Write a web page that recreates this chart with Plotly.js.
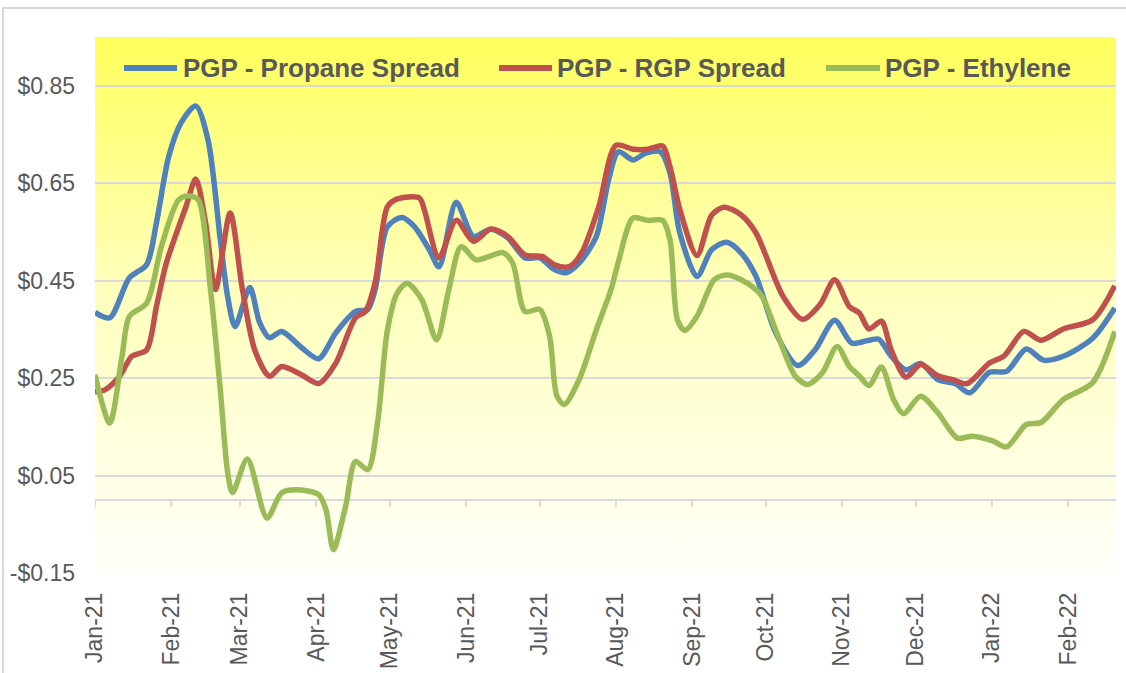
<!DOCTYPE html>
<html>
<head>
<meta charset="utf-8">
<script src="https://cdn.plot.ly/plotly-3.0.1.min.js"></script>
<style>
html,body{margin:0;padding:0;background:#ffffff;}
#chart{width:1126px;height:673px;}
</style>
</head>
<body>
<div id="chart"></div>
<script>
// ---------------- DATA ----------------
const seriesNames = ['PGP - Propane Spread', 'PGP - RGP Spread', 'PGP - Ethylene'];
const seriesColors = ['#4F81BD', '#C0504D', '#9BBB59'];

const propaneDates = ['2021-01-01','2021-01-07','2021-01-15','2021-01-22','2021-01-26','2021-01-31','2021-02-05','2021-02-11','2021-02-16','2021-02-21','2021-02-24','2021-02-27','2021-03-05','2021-03-09','2021-03-13','2021-03-18','2021-03-26','2021-04-02','2021-04-09','2021-04-17','2021-04-22','2021-04-25','2021-04-30','2021-05-06','2021-05-11','2021-05-17','2021-05-21','2021-05-28','2021-06-04','2021-06-11','2021-06-18','2021-06-25','2021-07-01','2021-07-07','2021-07-12','2021-07-17','2021-07-24','2021-07-29','2021-08-02','2021-08-08','2021-08-13','2021-08-19','2021-08-23','2021-08-27','2021-09-03','2021-09-09','2021-09-15','2021-09-21','2021-09-27','2021-10-05','2021-10-14','2021-10-21','2021-10-29','2021-11-05','2021-11-12','2021-11-16','2021-11-21','2021-11-27','2021-12-03','2021-12-10','2021-12-17','2021-12-23','2021-12-31','2022-01-07','2022-01-15','2022-01-22','2022-01-30','2022-02-11','2022-02-20'];
const propaneValues = [0.385,0.374,0.456,0.483,0.569,0.705,0.774,0.809,0.739,0.534,0.417,0.356,0.436,0.364,0.333,0.346,0.313,0.290,0.343,0.387,0.391,0.432,0.561,0.580,0.561,0.514,0.479,0.611,0.541,0.556,0.538,0.497,0.497,0.473,0.467,0.486,0.541,0.657,0.715,0.698,0.712,0.715,0.671,0.548,0.459,0.514,0.529,0.507,0.459,0.343,0.276,0.308,0.369,0.322,0.328,0.330,0.295,0.267,0.280,0.247,0.239,0.220,0.262,0.264,0.310,0.287,0.295,0.332,0.394];

const rgpDates = ['2021-01-01','2021-01-05','2021-01-11','2021-01-16','2021-01-22','2021-01-26','2021-01-30','2021-02-07','2021-02-11','2021-02-15','2021-02-19','2021-02-25','2021-03-02','2021-03-07','2021-03-13','2021-03-18','2021-03-26','2021-04-02','2021-04-09','2021-04-17','2021-04-21','2021-04-25','2021-04-30','2021-05-04','2021-05-13','2021-05-15','2021-05-21','2021-05-28','2021-06-04','2021-06-11','2021-06-18','2021-06-25','2021-07-02','2021-07-07','2021-07-13','2021-07-18','2021-07-25','2021-08-01','2021-08-08','2021-08-14','2021-08-20','2021-08-23','2021-08-27','2021-09-03','2021-09-09','2021-09-14','2021-09-21','2021-09-27','2021-10-08','2021-10-16','2021-10-23','2021-10-29','2021-11-04','2021-11-08','2021-11-12','2021-11-17','2021-11-21','2021-11-27','2021-12-03','2021-12-10','2021-12-16','2021-12-22','2021-12-31','2022-01-06','2022-01-14','2022-01-21','2022-01-30','2022-02-11','2022-02-20'];
const rgpValues = [0.222,0.226,0.254,0.295,0.308,0.397,0.486,0.602,0.659,0.569,0.432,0.589,0.432,0.308,0.254,0.274,0.257,0.239,0.281,0.374,0.387,0.446,0.602,0.618,0.620,0.596,0.497,0.574,0.531,0.556,0.541,0.503,0.500,0.483,0.479,0.507,0.602,0.728,0.720,0.720,0.727,0.684,0.596,0.502,0.585,0.601,0.585,0.548,0.418,0.371,0.401,0.452,0.397,0.384,0.351,0.367,0.308,0.252,0.278,0.255,0.247,0.239,0.281,0.296,0.346,0.328,0.351,0.370,0.440];

const ethyleneDates = ['2021-01-01','2021-01-07','2021-01-12','2021-01-15','2021-01-22','2021-01-28','2021-02-04','2021-02-08','2021-02-12','2021-02-17','2021-02-21','2021-02-24','2021-02-26','2021-03-04','2021-03-12','2021-03-18','2021-03-24','2021-04-02','2021-04-05','2021-04-08','2021-04-13','2021-04-17','2021-04-22','2021-04-26','2021-04-30','2021-05-04','2021-05-08','2021-05-14','2021-05-20','2021-05-25','2021-05-30','2021-06-05','2021-06-11','2021-06-16','2021-06-20','2021-06-25','2021-07-01','2021-07-05','2021-07-08','2021-07-11','2021-07-17','2021-07-24','2021-07-30','2021-08-02','2021-08-08','2021-08-14','2021-08-20','2021-08-23','2021-08-26','2021-08-29','2021-09-03','2021-09-10','2021-09-15','2021-09-21','2021-09-29','2021-10-05','2021-10-13','2021-10-18','2021-10-24','2021-10-30','2021-11-04','2021-11-08','2021-11-12','2021-11-17','2021-11-22','2021-11-26','2021-12-03','2021-12-10','2021-12-18','2021-12-24','2022-01-01','2022-01-07','2022-01-15','2022-01-21','2022-01-30','2022-02-11','2022-02-20'];
const ethyleneValues = [0.257,0.158,0.295,0.377,0.404,0.520,0.616,0.624,0.616,0.432,0.226,0.056,0.015,0.084,-0.037,0.015,0.021,0.011,-0.020,-0.102,-0.013,0.079,0.062,0.159,0.349,0.425,0.445,0.411,0.329,0.432,0.520,0.493,0.501,0.508,0.486,0.387,0.391,0.336,0.213,0.196,0.247,0.349,0.432,0.489,0.579,0.574,0.574,0.534,0.370,0.348,0.377,0.452,0.462,0.452,0.421,0.349,0.254,0.237,0.261,0.315,0.274,0.255,0.235,0.273,0.206,0.177,0.213,0.179,0.127,0.131,0.122,0.109,0.155,0.159,0.206,0.241,0.346];

const monthTicks = ['2021-01-01','2021-02-01','2021-03-01','2021-04-01','2021-05-01','2021-06-01','2021-07-01','2021-08-01','2021-09-01','2021-10-01','2021-11-01','2021-12-01','2022-01-01','2022-02-01'];
const monthLabels = ['Jan-21','Feb-21','Mar-21','Apr-21','May-21','Jun-21','Jul-21','Aug-21','Sep-21','Oct-21','Nov-21','Dec-21','Jan-22','Feb-22'];
const yTickVals = [-0.15, 0.05, 0.25, 0.45, 0.65, 0.85];
const yTickText = ['-$0.15', '$0.05', '$0.25', '$0.45', '$0.65', '$0.85'];

// ---------------- LAYOUT CONSTANTS ----------------
const W = 1126, H = 673;
const M = {l: 95, r: 10, t: 37, b: 100};
const PW = W - M.l - M.r, PH = H - M.t - M.b;
const px2x = p => (p - M.l) / PW;
const py2y = p => (H - M.b - p) / PH;
const FONT = 'Liberation Sans, Arial, sans-serif';
const TXT = '#595959';
const GRID = '#d9d9d9';

// gradient background for plot area
const cv = document.createElement('canvas');
cv.width = 8; cv.height = PH;
const ctx = cv.getContext('2d');
const g = ctx.createLinearGradient(0, 0, 0, PH);
g.addColorStop(0, 'rgb(255,255,92)');
g.addColorStop(0.45, 'rgb(255,255,185)');
g.addColorStop(1, 'rgb(255,255,250)');
ctx.fillStyle = g; ctx.fillRect(0, 0, 8, PH);
const bgURL = cv.toDataURL('image/png');

const dateSets = [propaneDates, rgpDates, ethyleneDates];
const valueSets = [propaneValues, rgpValues, ethyleneValues];
const traces = seriesNames.map((name, i) => ({
  type: 'scatter', mode: 'lines', name: name,
  x: dateSets[i], y: valueSets[i],
  line: {color: seriesColors[i], width: 5.5, shape: 'spline', smoothing: 0.8},
  hoverinfo: 'x+y+name'
}));

// custom legend
const legendY = 68;
const legendItems = [
  {lx0: 124, lx1: 177, tx: 181},
  {lx0: 499, lx1: 552, tx: 555},
  {lx0: 826, lx1: 880, tx: 883}
];
const shapes = [];
const annotations = [];
legendItems.forEach((it, i) => {
  shapes.push({type: 'line', xref: 'paper', yref: 'paper',
    x0: px2x(it.lx0), x1: px2x(it.lx1), y0: py2y(legendY), y1: py2y(legendY),
    line: {color: seriesColors[i], width: 6}});
  annotations.push({xref: 'paper', yref: 'paper', x: px2x(it.tx), y: py2y(legendY),
    xanchor: 'left', yanchor: 'middle', showarrow: false, text: seriesNames[i],
    font: {family: FONT, size: 26, color: TXT, weight: 'bold'}});
});
// tick marks on the zero line
monthTicks.forEach(t => {
  shapes.push({type: 'line', xref: 'x', yref: 'y', ysizemode: 'pixel', yanchor: 0,
    x0: t, x1: t, y0: 0, y1: -7, line: {color: GRID, width: 2}});
});
// outer chart border
shapes.push({type: 'rect', xref: 'paper', yref: 'paper', layer: 'below',
  x0: px2x(3), x1: px2x(1160), y0: py2y(8), y1: py2y(720),
  line: {color: GRID, width: 2}, fillcolor: 'rgba(0,0,0,0)'});

const layout = {
  width: W, height: H,
  margin: M,
  paper_bgcolor: '#ffffff',
  plot_bgcolor: 'rgba(0,0,0,0)',
  showlegend: false,
  font: {family: FONT, color: TXT},
  images: [{source: bgURL, xref: 'paper', yref: 'paper', x: 0, y: 1, sizex: 1, sizey: 1,
    xanchor: 'left', yanchor: 'top', sizing: 'stretch', layer: 'below'}],
  xaxis: {
    type: 'date', range: ['2021-01-01', '2022-02-20 12:00'],
    tickmode: 'array', tickvals: monthTicks, ticktext: monthLabels,
    tickangle: -90, ticks: '', showgrid: false, zeroline: false, showline: false,
    tickfont: {family: FONT, size: 23, color: TXT}, ticklabelstandoff: 14
  },
  yaxis: {
    range: [-0.15, 0.9505],
    tickmode: 'array', tickvals: yTickVals, ticktext: yTickText,
    ticks: '', showgrid: true, gridcolor: GRID, gridwidth: 2,
    zeroline: true, zerolinecolor: GRID, zerolinewidth: 2, showline: false,
    tickfont: {family: FONT, size: 23, color: TXT}, ticklabelstandoff: 19
  },
  shapes: shapes,
  annotations: annotations
};

Plotly.newPlot('chart', traces, layout, {displayModeBar: false, staticPlot: true});
</script>
</body>
</html>
